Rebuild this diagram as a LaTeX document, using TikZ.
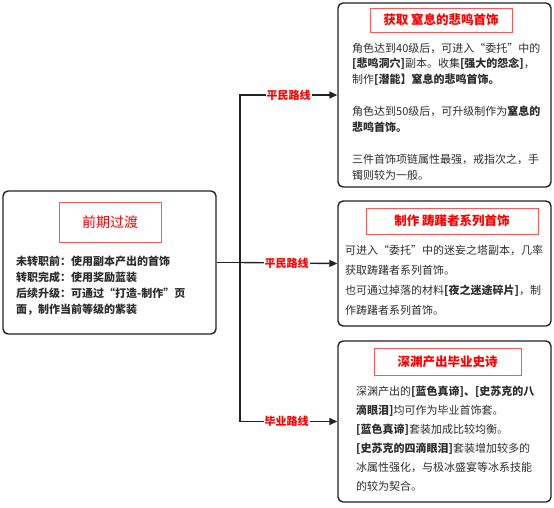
\documentclass[tikz,border=0pt]{standalone}
\usepackage{fontspec}
\setmainfont{Noto Sans CJK SC}
\usetikzlibrary{arrows.meta}
\definecolor{panelline}{RGB}{34,34,34}
\definecolor{headred}{RGB}{255,0,0}
\definecolor{headframe}{RGB}{255,85,85}
\definecolor{bodyink}{RGB}{45,45,45}

\begin{document}
\begin{tikzpicture}[x=1pt,y=-1pt,
    panel/.style={draw=panelline,line width=1.4pt,rounded corners=5pt,inner sep=0pt},
    headbox/.style={draw=headframe,line width=0.9pt,text=headred,inner sep=0pt},
    bodytext/.style={anchor=north west,align=left,inner sep=0pt,text=bodyink},
    route/.style={fill=white,text=headred,inner sep=1pt,font=\fontsize{11}{13}\selectfont\bfseries},
    link/.style={line width=1.4pt,draw=panelline,-{Triangle[length=8pt,width=7pt]}}]
  \useasboundingbox (0,0) rectangle (554,507);
  % left panel
  \node[panel,minimum width=213pt,minimum height=143pt] (early) at (109.5,262.5) {};
  \node[headbox,minimum width=102pt,minimum height=40pt,font=\fontsize{14}{16}\selectfont] (earlyhead) at (110,222) {前期过渡};
  \node[bodytext,font=\fontsize{11}{16}\selectfont\bfseries] (earlybody) at (16,256) {未转职前：使用副本产出的首饰\\
    转职完成：使用奖励蓝装\\
    后续升级：可通过“打造-制作”页\\
    面，制作当前等级的紫装};
  % upper panel
  \node[panel,minimum width=213pt,minimum height=184pt] (choke) at (444.5,95) {};
  \node[headbox,minimum width=142pt,minimum height=24pt,font=\fontsize{12.5}{14}\selectfont\bfseries] (chokehead) at (441,20) {获取 窒息的悲鸣首饰};
  \node[bodytext,font=\fontsize{11}{15.9}\selectfont] (chokebody) at (352,42.5) {角色达到40级后，可进入“委托”中的\\
    \textbf{[悲鸣洞穴]}副本。收集\textbf{[强大的怨念]}，\\
    制作\textbf{[潜能】窒息的悲鸣首饰。}\\
    \mbox{}\\
    角色达到50级后，可升级制作为\textbf{窒息的}\\
    \textbf{悲鸣首饰。}\\
    \mbox{}\\
    三件首饰项链属性最强，戒指次之，手\\
    镯则较为一般。};
  % middle panel
  \node[panel,minimum width=213pt,minimum height=125pt] (waver) at (444.5,263.5) {};
  \node[headbox,minimum width=172pt,minimum height=26pt,font=\fontsize{12.5}{14}\selectfont\bfseries] (waverhead) at (452,221) {制作 踌躇者系列首饰};
  \node[bodytext,font=\fontsize{11}{20}\selectfont] (waverbody) at (345,244.8) {可进入“委托”中的迷妄之塔副本，几率\\
    获取踌躇者系列首饰。\\
    也可通过掉落的材料\textbf{[夜之迷途碎片]}，制\\
    作踌躇者系列首饰。};
  % lower panel
  \node[panel,minimum width=213pt,minimum height=161pt] (abyss) at (444.5,421.5) {};
  \node[headbox,minimum width=147pt,minimum height=27pt,font=\fontsize{12.5}{14}\selectfont\bfseries] (abysshead) at (447.5,361.5) {深渊产出毕业史诗};
  \node[bodytext,font=\fontsize{11}{19}\selectfont] (abyssbody) at (356,385.5) {深渊产出的\textbf{[蓝色真谛]、[史苏克的八}\\
    \textbf{滴眼泪]}均可作为毕业首饰套。\\
    \textbf{[蓝色真谛]}套装加成比较均衡。\\
    \textbf{[史苏克的四滴眼泪]}套装增加较多的\\
    冰属性强化，与极冰盛宴等冰系技能\\
    的较为契合。};
  % connectors
  \coordinate (fork) at (240,262.5);
  \draw[line width=1.4pt,draw=panelline] (early.east) -- (fork);
  \draw[link] (fork) |- (choke.west) node[route,pos=0.75] {平民路线};
  \draw[link] (fork) -- (waver.west) node[route,pos=0.48] {平民路线};
  \draw[link] (fork) |- (abyss.west) node[route,pos=0.74] {毕业路线};
\end{tikzpicture}
\end{document}
